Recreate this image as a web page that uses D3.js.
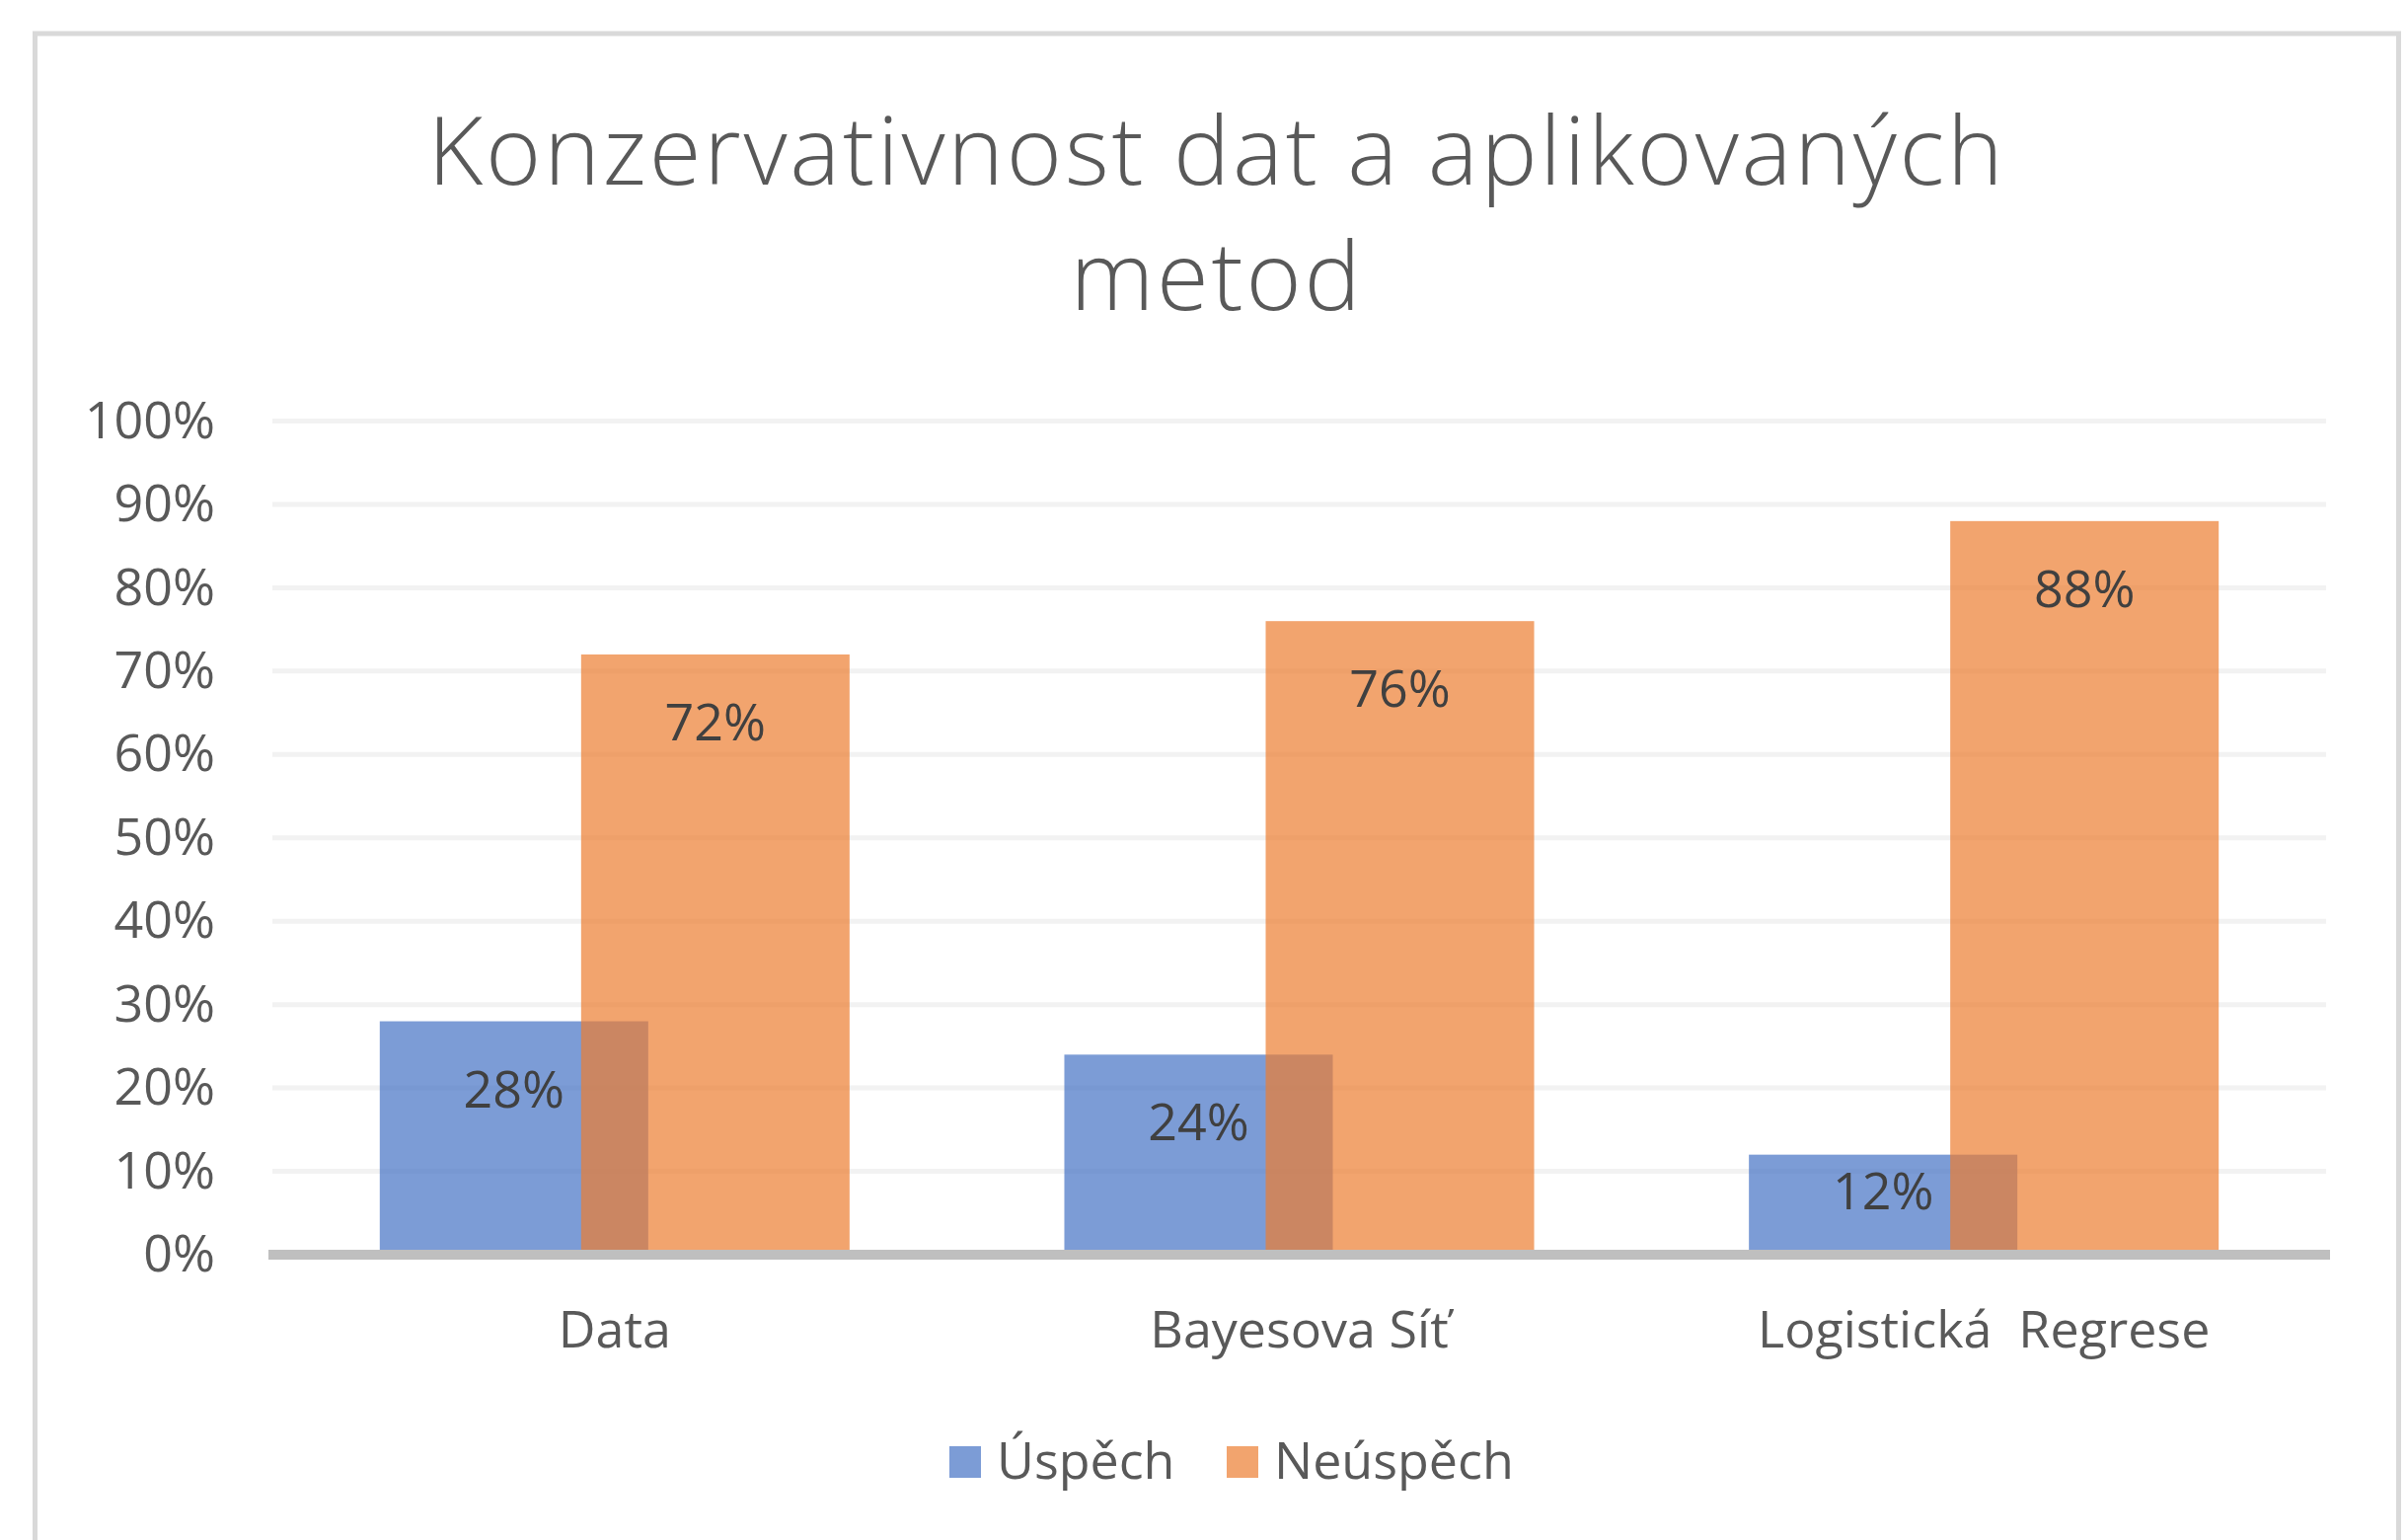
<!DOCTYPE html>
<html>
<head>
<meta charset="utf-8">
<script src="https://cdn.jsdelivr.net/npm/d3@7"></script>
<style>
  html, body { margin: 0; padding: 0; background: #fff; }
  #chart { width: 2440px; height: 1560px; }
  text { font-family: "Open Sans", "Segoe UI", "DejaVu Sans", sans-serif; }
</style>
</head>
<body>
<div id="chart"></div>
<script>
const categories = ["Data", "Bayesova Síť", "Logistická  Regrese"];
const seriesNames = ["Úspěch", "Neúspěch"];
const uspech = [0.28, 0.24, 0.12];
const neuspech = [0.72, 0.76, 0.88];
const yTicks = [0, 0.1, 0.2, 0.3, 0.4, 0.5, 0.6, 0.7, 0.8, 0.9, 1.0];
const titleLines = ["Konzervativnost dat a aplikovaných", "metod"];
const colors = ["#4472C4", "#ED7D31"];

function drawChart(containerId) {
  const width = 2440;
  const height = 1560;

  const svg = d3.select(`#${containerId}`)
    .append("svg")
    .attr("width", width)
    .attr("height", height);

  // frame
  svg.append("rect")
    .attr("x", 35.5)
    .attr("y", 34)
    .attr("width", 2395)
    .attr("height", 1600)
    .style("fill", "#fff")
    .style("stroke", "#d9d9d9")
    .style("stroke-width", 5);

  // title
  const title = svg.append("text")
    .attr("x", 1233)
    .attr("y", 187)
    .style("text-anchor", "middle")
    .style("font-size", "96px")
    .style("font-weight", 300)
    .style("letter-spacing", "2.8px")
    .style("fill", "#595959");
  titleLines.forEach((t, i) => {
    title.append("tspan").attr("x", 1233).attr("y", 187 + i * 127).text(t);
  });

  const x = d3.scaleBand().domain(categories).range([276, 2357]).padding(0);
  const y = d3.scaleLinear().domain([0, 1]).range([1271, 426.5]);

  const barW = x.bandwidth() / 2.55;
  const stepW = barW * 0.75;
  const groupW = barW + stepW;

  // gridlines
  svg.append("g")
    .selectAll("line")
    .data(yTicks.filter(d => d > 0))
    .join("line")
    .attr("x1", 276)
    .attr("x2", 2357)
    .attr("y1", d => y(d))
    .attr("y2", d => y(d))
    .style("stroke", "#f2f2f2")
    .style("stroke-width", 5);

  // y axis labels
  svg.append("g")
    .call(d3.axisLeft(y).tickValues(yTicks).tickFormat(d => Math.round(d * 100) + "%").tickSize(0).tickPadding(0))
    .attr("transform", "translate(218,0)")
    .call(g => g.select(".domain").remove())
    .call(g => g.selectAll("text")
      .style("fill", "#595959")
      .style("font-size", "52px")
      .style("font-family", "'Open Sans', 'Segoe UI', sans-serif"));

  const series = [uspech, neuspech];
  series.forEach((vals, si) => {
    svg.append("g")
      .selectAll("rect")
      .data(vals.map((v, i) => ({ cat: categories[i], v })))
      .join("rect")
      .attr("x", d => x(d.cat) + x.bandwidth() / 2 - groupW / 2 + si * stepW)
      .attr("y", d => y(d.v))
      .attr("width", barW)
      .attr("height", d => y(0) - y(d.v))
      .style("fill", colors[si])
      .style("opacity", 0.7);
  });

  // baseline
  svg.append("line")
    .attr("x1", 272)
    .attr("x2", 2361)
    .attr("y1", y(0))
    .attr("y2", y(0))
    .style("stroke", "#bfbfbf")
    .style("stroke-width", 10);

  // data labels (inside end, kept inside short bars)
  series.forEach((vals, si) => {
    svg.append("g")
      .selectAll("text")
      .data(vals.map((v, i) => ({ cat: categories[i], v })))
      .join("text")
      .attr("x", d => x(d.cat) + x.bandwidth() / 2 - groupW / 2 + si * stepW + barW / 2)
      .attr("y", d => Math.min(y(d.v) + 87, y(0) - 46))
      .style("text-anchor", "middle")
      .style("font-size", "52px")
      .style("fill", "#404040")
      .text(d => Math.round(d.v * 100) + "%");
  });

  // category labels
  svg.append("g")
    .selectAll("text")
    .data(categories)
    .join("text")
    .attr("x", d => x(d) + x.bandwidth() / 2)
    .attr("y", 1365)
    .style("text-anchor", "middle")
    .style("font-size", "52px")
    .style("fill", "#595959")
    .style("white-space", "pre")
    .text(d => d);

  // legend
  const legendX = [962, 1243];
  seriesNames.forEach((name, i) => {
    svg.append("rect")
      .attr("x", legendX[i])
      .attr("y", 1465)
      .attr("width", 32)
      .attr("height", 32)
      .style("fill", colors[i])
      .style("opacity", 0.7);
    svg.append("text")
      .attr("x", legendX[i] + 48)
      .attr("y", 1498)
      .style("font-size", "52px")
      .style("fill", "#595959")
      .text(name);
  });
}

drawChart("chart");
</script>
</body>
</html>
